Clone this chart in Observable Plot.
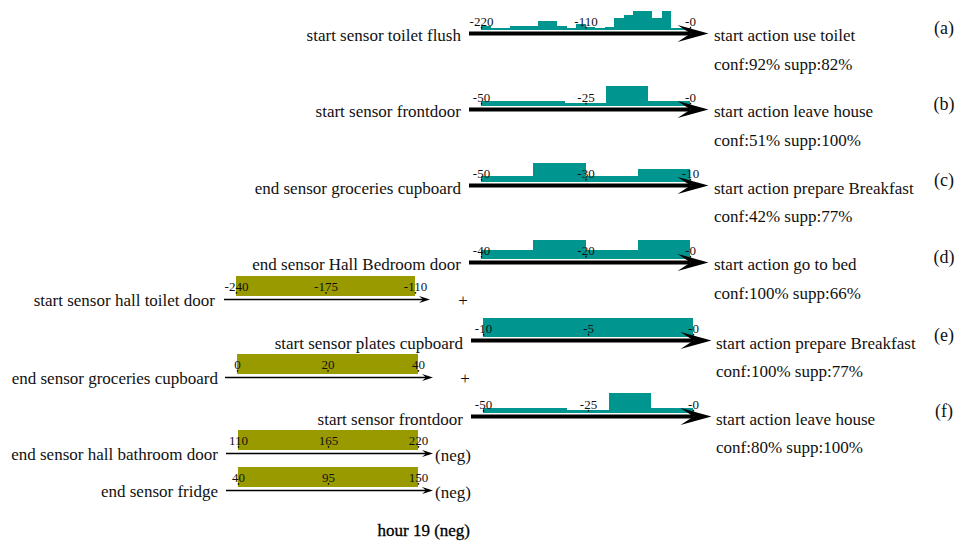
<!DOCTYPE html>
<html><head><meta charset="utf-8">
<script src="https://cdn.jsdelivr.net/npm/d3@7"></script>
<script src="https://cdn.jsdelivr.net/npm/@observablehq/plot@0.6"></script>
<style>
html,body{margin:0;padding:0;background:#fff;}
#root{position:relative;width:963px;height:541px;overflow:hidden;font-family:"Liberation Serif","Times New Roman",serif;color:#111;}
.lbl{position:absolute;white-space:nowrap;}
.panel{position:absolute;}
.panel svg{overflow:visible;}
</style></head><body><div id="root"></div>
<script>
// ================= DATA =================
const ruleIds     = ["(a)","(b)","(c)","(d)","(e)","(f)"];
const antecedents = ["start sensor toilet flush","start sensor frontdoor","end sensor groceries cupboard","end sensor Hall Bedroom door","start sensor plates cupboard","start sensor frontdoor"];
const consequents = ["start action use toilet","start action leave house","start action prepare Breakfast","start action go to bed","start action prepare Breakfast","start action leave house"];
const confidence  = [92, 51, 42, 100, 100, 80];
const support     = [82, 100, 77, 66, 77, 100];

// time-offset histograms (relative bar heights)
const domainA = [-220, 0]; const binWidthA = 10;
const histA = [3.5,1.5,1.5,3.5,3.5,3.5,9,9,3.5,1.5,6,3,1.5,3,12,15,19,19,12,19,1.5,1.5];
const ticksA = [-220, -110, 0]; const tickLabelsA = ["-220","-110","-0"];

const domainB = [-50, 0]; const binWidthB = 5;
const histB = [4.7,4.7,4.7,4.7,3,3,19.7,19.7,4.7,4.7];
const ticksB = [-50, -25, 0]; const tickLabelsB = ["-50","-25","-0"];

const domainC = [-50, -10]; const binWidthC = 10;
const histC = [6,18.4,6,12.7];
const ticksC = [-50, -30, -10]; const tickLabelsC = ["-50","-30","-10"];

const domainD = [-40, 0]; const binWidthD = 10;
const histD = [9.3,19.3,9.3,19.3];
const ticksD = [-40, -20, 0]; const tickLabelsD = ["-40","-20","-0"];

const domainE = [-10, 0]; const binWidthE = 10;
const histE = [18.4];
const ticksE = [-10, -5, 0]; const tickLabelsE = ["-10","-5","-0"];

const domainF = [-50, 0]; const binWidthF = 5;
const histF = [4.7,4.7,4.7,4.7,2.7,2.7,19.7,19.7,4.7,4.7];
const ticksF = [-50, -25, 0]; const tickLabelsF = ["-50","-25","-0"];

// extra conditions (olive intervals)
const conditions   = ["start sensor hall toilet door","end sensor groceries cupboard","end sensor hall bathroom door","end sensor fridge"];
const condDomains  = [[-240,-110],[0,40],[110,220],[40,150]];
const condTicks    = [[-240,-175,-110],[0,20,40],[110,165,220],[40,95,150]];
const condCoverage = [1,1,1,1];
const condSuffix   = ["+","+","(neg)","(neg)"];
const footer = "hour 19 (neg)";

// ================= LAYOUT / STYLE =================
const TEAL = "#00968f", OLIVE = "#999900", INK = "#111";
const FONT = "Liberation Serif, Times New Roman, serif";
const rowLayout = [
  {axisL:481, axisR:690, arrowY:32.5, textL:461, textR:714},
  {axisL:481, axisR:690, arrowY:108.5, textL:461, textR:714},
  {axisL:481, axisR:690, arrowY:185, textL:461, textR:714},
  {axisL:481, axisR:690, arrowY:261.5, textL:461, textR:714},
  {axisL:483, axisR:693, arrowY:340, textL:463, textR:716},
  {axisL:483, axisR:693, arrowY:416, textL:463, textR:716}
];
const condLayout = [
  {axisL:236, axisR:415, arrowY:299, textR:215, suffixX:463},
  {axisL:237, axisR:418, arrowY:377, textR:218, suffixX:465},
  {axisL:238, axisR:418, arrowY:453, textR:218, suffixX:435},
  {axisL:238, axisR:418, arrowY:490, textR:218, suffixX:435}
];
const idX = 944;

const root = document.getElementById("root");

function addText(str, x, baseline, anchor, size, extra) {
  const d = document.createElement("div");
  d.className = "lbl";
  d.textContent = str;
  d.style.fontSize = size + "px";
  d.style.lineHeight = size + "px";
  d.style.left = x + "px";
  d.style.top = (baseline - 0.8375 * size) + "px";
  const tx = anchor === "end" ? "-100%" : anchor === "middle" ? "-50%" : "0";
  d.style.transform = `translateX(${tx})`;
  if (extra) Object.assign(d.style, extra);
  root.appendChild(d);
}

const stealthBig = {draw(ctx) {
  ctx.moveTo(18, 0); ctx.lineTo(-13, -8.6); ctx.lineTo(0, 0); ctx.lineTo(-13, 8.6); ctx.closePath();
}};
const stealthSmall = {draw(ctx) {
  ctx.moveTo(14.5, 0); ctx.lineTo(3.5, -3.6); ctx.lineTo(7.5, 0); ctx.lineTo(3.5, 3.6); ctx.closePath();
}};

function place(svg, left, top) {
  const wrap = document.createElement("div");
  wrap.className = "panel";
  wrap.style.left = left + "px";
  wrap.style.top = top + "px";
  wrap.appendChild(svg);
  root.appendChild(wrap);
}

function ruleHistogram(domain, binWidth, values, ticks, tickLabels, L) {
  const bins = values.map((v, i) => ({x1: domain[0] + i * binWidth, x2: domain[0] + (i + 1) * binWidth, v}));
  const padL = 22, padR = 24, H = 46, base = 34, gap = 3.2;
  const barBottom = base - gap;
  const svg = Plot.plot({
    width: (L.axisR - L.axisL) + padL + padR, height: H,
    marginLeft: padL, marginRight: padR, marginTop: barBottom - 20, marginBottom: H - barBottom,
    x: {domain, axis: null}, y: {domain: [0, 20], axis: null},
    style: {background: "transparent", overflow: "visible"},
    marks: [
      Plot.rectY(bins, {x1: "x1", x2: "x2", y: "v", fill: TEAL, shapeRendering: "crispEdges"}),
      Plot.ruleY([0], {dy: gap, stroke: "#000", strokeWidth: 4, insetLeft: -12}),
      Plot.dot([domain[1]], {x: d => d, y: 0, dy: gap, symbol: stealthBig, fill: "#000", stroke: "none", r: 10}),
      Plot.ruleX(ticks, {x: d => d, y1: 1.2, y2: 3.0, stroke: "#000", strokeWidth: 1.3}),
      Plot.text(ticks, {x: d => d, y: 0, dy: gap - 8, text: (d, i) => tickLabels[i], lineAnchor: "bottom",
        fontSize: 13, fontFamily: FONT, fill: INK})
    ]
  });
  place(svg, L.axisL - padL, L.arrowY - base);
}

function conditionBar(domain, ticks, coverage, L) {
  const padL = 16, padR = 20, H = 36, base = 26, gap = 3;
  const barBottom = base - gap;
  const svg = Plot.plot({
    width: (L.axisR - L.axisL) + padL + padR, height: H,
    marginLeft: padL, marginRight: padR, marginTop: barBottom - 20, marginBottom: H - barBottom,
    x: {domain, axis: null}, y: {domain: [0, 1], axis: null},
    style: {background: "transparent", overflow: "visible"},
    marks: [
      Plot.rectY([{x1: domain[0], x2: domain[1], v: coverage}], {x1: "x1", x2: "x2", y: "v", fill: OLIVE, shapeRendering: "crispEdges"}),
      Plot.ruleY([0], {dy: gap, stroke: "#000", strokeWidth: 1.4, insetLeft: -12, insetRight: -8}),
      Plot.dot([domain[1]], {x: d => d, y: 0, dy: gap, symbol: stealthSmall, fill: "#000", stroke: "none", r: 6}),
      Plot.dot(ticks, {x: d => d, y: 0, dy: gap - 6.6, r: 0.8, fill: "#000", stroke: "none"}),
      Plot.text(ticks, {x: d => d, y: 0, dy: gap - 8.3, text: d => String(d), lineAnchor: "bottom",
        fontSize: 13, fontFamily: FONT, fill: INK})
    ]
  });
  place(svg, L.axisL - padL, L.arrowY - base);
}

const histSpecs = [
  [domainA, binWidthA, histA, ticksA, tickLabelsA],
  [domainB, binWidthB, histB, ticksB, tickLabelsB],
  [domainC, binWidthC, histC, ticksC, tickLabelsC],
  [domainD, binWidthD, histD, ticksD, tickLabelsD],
  [domainE, binWidthE, histE, ticksE, tickLabelsE],
  [domainF, binWidthF, histF, ticksF, tickLabelsF]
];

histSpecs.forEach((s, i) => {
  const L = rowLayout[i];
  ruleHistogram(s[0], s[1], s[2], s[3], s[4], L);
  addText(antecedents[i], L.textL, L.arrowY + 9, "end", 17);
  addText(consequents[i], L.textR, L.arrowY + 9, "start", 17);
  addText(`conf:${confidence[i]}% supp:${support[i]}%`, L.textR, L.arrowY + 37.5, "start", 17);
  addText(ruleIds[i], idX, L.arrowY + 1.5, "middle", 18);
});

conditions.forEach((c, i) => {
  const L = condLayout[i];
  conditionBar(condDomains[i], condTicks[i], condCoverage[i], L);
  addText(c, L.textR, L.arrowY + 7, "end", 17);
  if (condSuffix[i] === "+") addText(condSuffix[i], L.suffixX, L.arrowY + 7, "middle", 17);
  else addText(condSuffix[i], L.suffixX, L.arrowY + 8, "start", 17);
});

addText(footer, 470, 536, "end", 17, {color: "#000", webkitTextStroke: "0.3px #000"});
</script></body></html>
